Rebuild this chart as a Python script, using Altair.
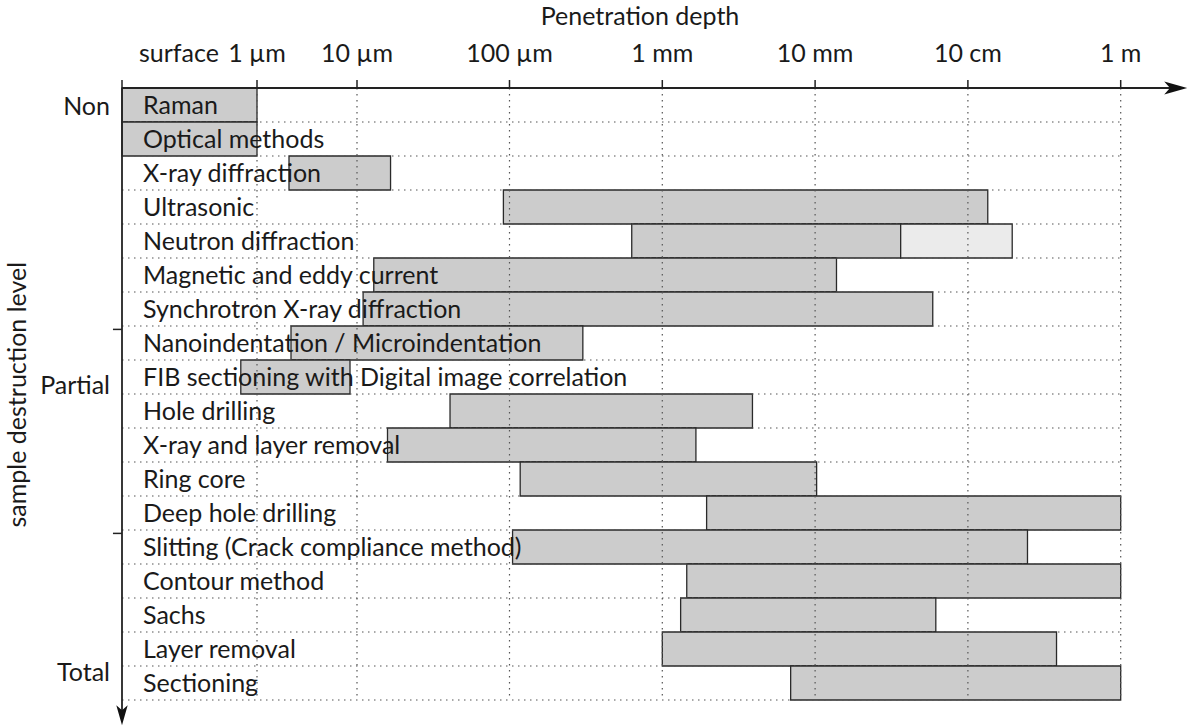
import altair as alt
import pandas as pd

# ---------------- data (depths as log10 of depth in µm; -1 = surface) ----------------
methods = [
    "Raman", "Optical methods", "X-ray diffraction", "Ultrasonic", "Neutron diffraction",
    "Magnetic and eddy current", "Synchrotron X-ray diffraction",
    "Nanoindentation / Microindentation", "FIB sectioning with Digital image correlation",
    "Hole drilling", "X-ray and layer removal", "Ring core", "Deep hole drilling",
    "Slitting (Crack compliance method)", "Contour method", "Sachs", "Layer removal", "Sectioning",
]
range_start = [-1, -1, 0.32, 1.96, 2.80, 1.11, 1.04, 0.34, -0.12, 1.61, 1.20, 2.07, 3.29,
               2.02, 3.16, 3.12, 3.00, 3.84]
range_end = [0, 0, 1.22, 5.13, 4.56, 4.14, 4.77, 2.48, 0.93, 3.59, 3.22, 4.01, 6.0,
             5.39, 6.0, 4.79, 5.58, 6.0]

# extended (lighter) range
ext_method = ["Neutron diffraction"]
ext_start = [4.56]
ext_end = [5.29]

tick_values = [-1, 0, 1, 2, 3, 4, 5, 6]
tick_labels = ["", "1 µm", "10 µm", "100 µm", "1 mm", "10 mm", "10 cm", "1 m"]
grid_values = [0, 1, 2, 3, 4, 5, 6]

levels = ["Non", "Partial", "Total"]
level_pos = [0.55, 8.77, 17.2]
level_ticks = [7.1, 13.1]

x_title = "Penetration depth"
y_title = "sample destruction level"

# ---------------- tables ----------------
n = len(methods)
bars = pd.DataFrame({
    "method": methods + ext_method,
    "start": range_start + ext_start,
    "end": range_end + ext_end,
    "kind": ["main"] * n + ["extended"] * len(ext_method),
})
row_of = {m: i for i, m in enumerate(methods)}
bars["row"] = bars["method"].map(row_of)
bars["row2"] = bars["row"] + 1

labels = pd.DataFrame({"method": methods, "row": [i + 0.5 for i in range(n)], "x0": -1})
vgrid = pd.DataFrame({"xv": grid_values, "y0": 0, "y1": n})
hgrid = pd.DataFrame({"yv": list(range(1, n + 1)), "x0": -1, "x1": 6})
lev = pd.DataFrame({"level": levels, "pos": level_pos, "x0": -1})
lticks = pd.DataFrame({"yv": level_ticks, "x0": -1.067, "x1": -1})
xticks = pd.DataFrame({"xv": tick_values, "y0": -0.235, "y1": 0})
xlabels = pd.DataFrame({"xv": tick_values, "t": tick_labels, "y": -0.77})
haxis = pd.DataFrame({"x0": [-1], "x1": [6.36], "y": [0]})
vaxis = pd.DataFrame({"x": [-1], "y0": [0], "y1": [18.45]})
harrow = pd.DataFrame({"x": [6.36], "y": [0]})
varrow = pd.DataFrame({"x": [-1], "y": [18.45]})
surf = pd.DataFrame({"x": [-1], "y": [-0.77], "t": ["surface"]})
xtitle = pd.DataFrame({"x": [2.854], "y": [-1.86], "t": [x_title]})
ytitle = pd.DataFrame({"x": [-1.77], "y": [9.02], "t": [y_title]})

FONT = "Lato"
FS = 25
TXT = "#1a1a1a"

xs = alt.Scale(domain=[-1, 0, 1, 2, 6], range=[0, 135, 235, 387.5, 998.7], zero=False, nice=False)
ys = alt.Scale(domain=[0, 18], range=[0, 612], zero=False, nice=False)


def X(f):
    return alt.X(f, scale=xs, axis=None)


def Y(f):
    return alt.Y(f, scale=ys, axis=None)


bar_layer = alt.Chart(bars).mark_rect(stroke="#2a2a2a", strokeWidth=1.3).encode(
    x=X("start:Q"), x2="end:Q", y=Y("row:Q"), y2="row2:Q",
    fill=alt.Fill("kind:N", scale=alt.Scale(domain=["main", "extended"],
                                           range=["#cccccc", "#ebebeb"]), legend=None),
)

dot = dict(stroke="#555555", strokeWidth=1.2, strokeDash=[1.5, 4.5])
vgrid_layer = alt.Chart(vgrid).mark_rule(**dot).encode(x=X("xv:Q"), y=Y("y0:Q"), y2="y1:Q")
hgrid_layer = alt.Chart(hgrid).mark_rule(**dot).encode(x=X("x0:Q"), x2="x1:Q", y=Y("yv:Q"))

axis_line = dict(stroke="#222222", strokeWidth=1.8)
haxis_layer = alt.Chart(haxis).mark_rule(**axis_line).encode(x=X("x0:Q"), x2="x1:Q", y=Y("y:Q"))
vaxis_layer = alt.Chart(vaxis).mark_rule(**axis_line).encode(x=X("x:Q"), y=Y("y0:Q"), y2="y1:Q")
ltick_layer = alt.Chart(lticks).mark_rule(stroke="#222222", strokeWidth=1.5).encode(
    x=X("x0:Q"), x2="x1:Q", y=Y("yv:Q"))
xtick_layer = alt.Chart(xticks).mark_rule(stroke="#222222", strokeWidth=1.5).encode(
    x=X("xv:Q"), y=Y("y0:Q"), y2="y1:Q")

arrow_path = "M 1 0 L -1 -0.57 L -0.5 0 L -1 0.57 Z"
harrow_layer = alt.Chart(harrow).mark_point(
    shape=arrow_path, filled=True, fill="#111111", size=529, opacity=1).encode(
    x=X("x:Q"), y=Y("y:Q"))
varrow_layer = alt.Chart(varrow).mark_point(
    shape=arrow_path, filled=True, fill="#111111", size=400, angle=90, opacity=1).encode(
    x=X("x:Q"), y=Y("y:Q"))

txt = dict(font=FONT, fontSize=FS, color=TXT)
text_layer = alt.Chart(labels).mark_text(align="left", baseline="middle", dx=21, dy=1, **txt).encode(
    x=X("x0:Q"), y=Y("row:Q"), text="method:N")
level_layer = alt.Chart(lev).mark_text(align="right", baseline="middle", dx=-12, **txt).encode(
    x=X("x0:Q"), y=Y("pos:Q"), text="level:N")
xlabel_layer = alt.Chart(xlabels).mark_text(align="center", baseline="alphabetic", **txt).encode(
    x=X("xv:Q"), y=Y("y:Q"), text="t:N")
surf_layer = alt.Chart(surf).mark_text(align="left", baseline="alphabetic", dx=17, **txt).encode(
    x=X("x:Q"), y=Y("y:Q"), text="t:N")
xtitle_layer = alt.Chart(xtitle).mark_text(align="center", baseline="alphabetic", **txt).encode(
    x=X("x:Q"), y=Y("y:Q"), text="t:N")
ytitle_layer = alt.Chart(ytitle).mark_text(align="center", baseline="middle", angle=270, **txt).encode(
    x=X("x:Q"), y=Y("y:Q"), text="t:N")

chart = alt.layer(
    bar_layer, vgrid_layer, hgrid_layer, haxis_layer, vaxis_layer, ltick_layer, xtick_layer,
    harrow_layer, varrow_layer, text_layer, level_layer, xlabel_layer, surf_layer,
    xtitle_layer, ytitle_layer,
).properties(
    width=999, height=612,
    autosize=alt.AutoSizeParams(type="none"),
    padding={"left": 122, "top": 88, "right": 71, "bottom": 26},
    background="white",
).configure_view(stroke=None)

chart.save("out.html", embed_options={"renderer": "svg", "actions": False})
